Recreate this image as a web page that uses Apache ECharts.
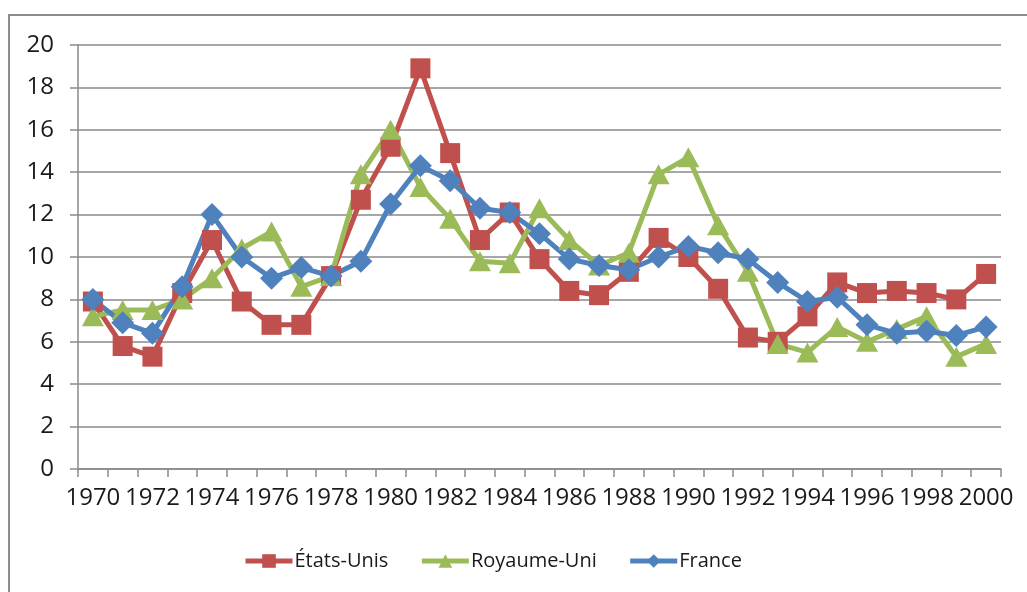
<!DOCTYPE html>
<html>
<head>
<meta charset="utf-8">
<title>États-Unis, Royaume-Uni, France 1970-2000</title>
<script src="https://cdn.jsdelivr.net/npm/echarts@6/dist/echarts.min.js"></script>
<style>
  html, body { margin: 0; padding: 0; background: #fff; }
  #chart { width: 1027px; height: 592px; }
</style>
</head>
<body>
<div id="chart"></div>
<script>
// Années (axe des x)
const years = [];
for (let y = 1970; y <= 2000; y++) years.push(String(y));

// Valeurs
const etatsUnis = [7.9, 5.8, 5.3, 8.3, 10.8, 7.9, 6.8, 6.8, 9.1, 12.7,
    15.2, 18.9, 14.9, 10.8, 12.1, 9.9, 8.4, 8.2, 9.3, 10.9,
    10.0, 8.5, 6.2, 6.0, 7.2, 8.8, 8.3, 8.4, 8.3, 8.0, 9.2];
const royaumeUni = [7.2, 7.5, 7.5, 8.0, 9.0, 10.4, 11.2, 8.6, 9.1, 13.9,
    16.0, 13.3, 11.8, 9.8, 9.7, 12.3, 10.8, 9.6, 10.2, 13.9,
    14.7, 11.5, 9.3, 5.9, 5.5, 6.7, 6.0, 6.6, 7.2, 5.3, 5.9];
const france = [8.0, 6.9, 6.4, 8.6, 12.0, 10.0, 9.0, 9.5, 9.1, 9.8,
    12.5, 14.3, 13.6, 12.3, 12.1, 11.1, 9.9, 9.6, 9.4, 10.0,
    10.5, 10.2, 9.9, 8.8, 7.9, 8.1, 6.8, 6.4, 6.5, 6.3, 6.7];

const seriesNames = ['États-Unis', 'Royaume-Uni', 'France'];

const chartDom = document.getElementById('chart');
const chart = echarts.init(chartDom, null, { renderer: 'canvas' });

const font = '"Open Sans", "DejaVu Sans", sans-serif';
const gridColor = '#8a8a8a';

function ligne(name, data, color, symbol, size) {
    return {
        name: name,
        type: 'line',
        data: data,
        symbol: symbol,
        symbolSize: size,
        showAllSymbol: true,
        lineStyle: { color: color, width: 5 },
        itemStyle: { color: color },
        emphasis: { disabled: true }
    };
}

const option = {
    animation: false,
    color: ['#C0504D', '#9BBB59', '#4F81BD'],
    textStyle: { fontFamily: font },
    graphic: [{
        type: 'rect',
        shape: { x: 9, y: 15, width: 1040, height: 600 },
        style: { fill: 'none', stroke: '#8c8c8c', lineWidth: 2 },
        silent: true
    }],
    grid: { left: 78, right: 26, top: 45, bottom: 123 },
    legend: {
        data: seriesNames,
        left: 243,
        top: 551,
        padding: 0,
        itemWidth: 47,
        itemHeight: 17,
        itemGap: 31,
        lineStyle: { width: 5 },
        textStyle: { fontFamily: font, fontSize: 20, color: '#1a1a1a', padding: [0, 0, 0, -3] }
    },
    xAxis: {
        type: 'category',
        data: years,
        boundaryGap: true,
        axisLine: { lineStyle: { color: gridColor, width: 1.5 } },
        axisTick: { show: true, interval: 0, length: 8, lineStyle: { color: gridColor, width: 1.5 } },
        axisLabel: { interval: 1, margin: 17, fontSize: 24, color: '#1a1a1a', fontFamily: font },
        splitLine: { show: false }
    },
    yAxis: {
        type: 'value',
        min: 0,
        max: 20,
        interval: 2,
        axisLine: { show: true, lineStyle: { color: gridColor, width: 1.5 } },
        axisTick: { show: true, length: 8, lineStyle: { color: gridColor, width: 1.5 } },
        axisLabel: { margin: 24, fontSize: 24, color: '#1a1a1a', fontFamily: font },
        splitLine: { show: true, lineStyle: { color: gridColor, width: 1.5 } }
    },
    series: [
        ligne(seriesNames[0], etatsUnis, '#C0504D', 'rect', 20),
        ligne(seriesNames[1], royaumeUni, '#9BBB59', 'triangle', [22, 20]),
        ligne(seriesNames[2], france, '#4F81BD', 'diamond', [23, 23])
    ]
};

chart.setOption(option);
</script>
</body>
</html>
